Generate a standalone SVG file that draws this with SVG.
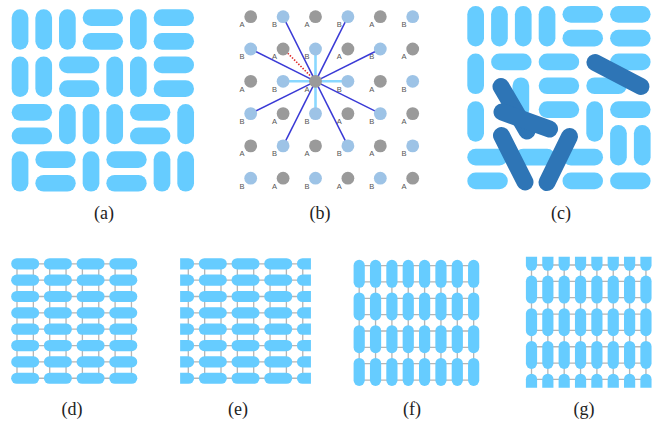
<svg xmlns="http://www.w3.org/2000/svg" xmlns:xlink="http://www.w3.org/1999/xlink" width="657" height="421" viewBox="0 0 657 421">
<style>
.pill{fill:#66ccff}
.dark{stroke:#2e75b6;stroke-width:17;stroke-linecap:round;fill:none}
.dA{fill:#9a9a9a}
.dB{fill:#9dc3e6}
.lab{font-family:"Liberation Sans",Arial,sans-serif;font-size:7.5px;fill:#555;text-anchor:middle}
.far{stroke:#3a3ad6;stroke-width:1.5}
.near{stroke:#8ad8ff;stroke-width:2.6}
.red{stroke:#e02828;stroke-width:1.6;stroke-dasharray:1.5 1.5}
.grid{stroke:#b5b5b5;stroke-width:1.3;fill:none}
.cap{font-family:"Liberation Serif","Times New Roman",serif;font-size:18px;fill:#222;text-anchor:middle}
</style>
<defs>
<rect id="pv" width="16.7" height="40.36" rx="8.35"/>
<rect id="ph" width="40.36" height="16.7" rx="8.35"/>
<rect id="cv" width="16.7" height="40.5" rx="8.35"/>
<rect id="ch" width="40.5" height="16.7" rx="8.35"/>
<rect id="sh" x="-14" y="-5.6" width="28" height="11.2" rx="5.6"/>
<rect id="sv" x="-5.6" y="-14" width="11.2" height="28" rx="5.6"/>
<g id="rowD"><use href="#sh" x="25.18"/><use href="#sh" x="57.88"/><use href="#sh" x="90.58"/><use href="#sh" x="123.28"/></g>
<g id="rowE"><use href="#sh" x="180.13"/><use href="#sh" x="212.83"/><use href="#sh" x="245.53"/><use href="#sh" x="278.23"/><use href="#sh" x="310.93"/></g>
<g id="colF"><use href="#sv" y="273.78"/><use href="#sv" y="306.48"/><use href="#sv" y="339.18"/><use href="#sv" y="371.88"/></g>
<g id="colG"><use href="#sv" y="256.83"/><use href="#sv" y="289.53"/><use href="#sv" y="322.23"/><use href="#sv" y="354.93"/><use href="#sv" y="387.63"/></g>
<clipPath id="clipE"><rect x="180.13" y="250" width="130.8" height="140"/></clipPath>
<clipPath id="clipG"><rect x="520" y="256.83" width="140" height="130.8"/></clipPath>
</defs>

<g id="panel-a" class="pill">
<use href="#pv" x="11.7" y="9.3"/><use href="#pv" x="35.36" y="9.3"/><use href="#pv" x="59.02" y="9.3"/>
<use href="#ph" x="82.68" y="9.3"/><use href="#ph" x="82.68" y="32.96"/>
<use href="#pv" x="130" y="9.3"/>
<use href="#ph" x="153.66" y="9.3"/><use href="#ph" x="153.66" y="32.96"/>
<use href="#pv" x="11.7" y="56.62"/><use href="#pv" x="35.36" y="56.62"/>
<use href="#ph" x="59.02" y="56.62"/><use href="#ph" x="59.02" y="80.28"/>
<use href="#pv" x="106.34" y="56.62"/><use href="#pv" x="130" y="56.62"/>
<use href="#ph" x="153.66" y="56.62"/><use href="#ph" x="153.66" y="80.28"/>
<use href="#ph" x="11.7" y="103.94"/><use href="#ph" x="11.7" y="127.6"/>
<use href="#pv" x="59.02" y="103.94"/><use href="#pv" x="82.68" y="103.94"/><use href="#pv" x="106.34" y="103.94"/>
<use href="#ph" x="130" y="103.94"/><use href="#ph" x="130" y="127.6"/>
<use href="#pv" x="177.32" y="103.94"/>
<use href="#pv" x="11.7" y="151.26"/>
<use href="#ph" x="35.36" y="151.26"/><use href="#ph" x="35.36" y="174.92"/>
<use href="#pv" x="82.68" y="151.26"/>
<use href="#ph" x="106.34" y="151.26"/><use href="#ph" x="106.34" y="174.92"/>
<use href="#pv" x="153.66" y="151.26"/><use href="#pv" x="177.32" y="151.26"/>
</g>

<g id="panel-b">
<g id="labels-b" class="lab">
<text x="242.1" y="27.1">A</text><text x="274.5" y="27.1">B</text><text x="306.9" y="27.1">A</text><text x="339.3" y="27.1">B</text><text x="371.7" y="27.1">A</text><text x="404.1" y="27.1">B</text>
<text x="242.1" y="59.4">B</text><text x="274.5" y="59.4">A</text><text x="306.9" y="59.4">B</text><text x="339.3" y="59.4">A</text><text x="371.7" y="59.4">B</text><text x="404.1" y="59.4">A</text>
<text x="242.1" y="91.7">A</text><text x="274.5" y="91.7">B</text><text x="306.9" y="91.7">A</text><text x="339.3" y="91.7">B</text><text x="371.7" y="91.7">A</text><text x="404.1" y="91.7">B</text>
<text x="242.1" y="124">B</text><text x="274.5" y="124">A</text><text x="306.9" y="124">B</text><text x="339.3" y="124">A</text><text x="371.7" y="124">B</text><text x="404.1" y="124">A</text>
<text x="242.1" y="156.3">A</text><text x="274.5" y="156.3">B</text><text x="306.9" y="156.3">A</text><text x="339.3" y="156.3">B</text><text x="371.7" y="156.3">A</text><text x="404.1" y="156.3">B</text>
<text x="242.1" y="188.6">B</text><text x="274.5" y="188.6">A</text><text x="306.9" y="188.6">B</text><text x="339.3" y="188.6">A</text><text x="371.7" y="188.6">B</text><text x="404.1" y="188.6">A</text>
</g>
<g id="connectors-b">
<line class="far" x1="315.5" y1="81.3" x2="283.1" y2="16.7"/>
<line class="far" x1="315.5" y1="81.3" x2="347.9" y2="16.7"/>
<line class="far" x1="315.5" y1="81.3" x2="250.7" y2="49"/>
<line class="far" x1="315.5" y1="81.3" x2="380.3" y2="49"/>
<line class="far" x1="315.5" y1="81.3" x2="250.7" y2="113.6"/>
<line class="far" x1="315.5" y1="81.3" x2="380.3" y2="113.6"/>
<line class="far" x1="315.5" y1="81.3" x2="283.1" y2="145.9"/>
<line class="far" x1="315.5" y1="81.3" x2="347.9" y2="145.9"/>
<line class="near" x1="315.5" y1="81.3" x2="315.5" y2="49"/>
<line class="near" x1="315.5" y1="81.3" x2="283.1" y2="81.3"/>
<line class="near" x1="315.5" y1="81.3" x2="347.9" y2="81.3"/>
<line class="near" x1="315.5" y1="81.3" x2="315.5" y2="113.6"/>
<line class="red" x1="310" y1="75.5" x2="287.5" y2="53"/>
</g>
<g id="dots-b">
<circle class="dA" cx="250.7" cy="16.7" r="6.4"/><circle class="dB" cx="283.1" cy="16.7" r="6.4"/><circle class="dA" cx="315.5" cy="16.7" r="6.4"/><circle class="dB" cx="347.9" cy="16.7" r="6.4"/><circle class="dA" cx="380.3" cy="16.7" r="6.4"/><circle class="dB" cx="412.7" cy="16.7" r="6.4"/>
<circle class="dB" cx="250.7" cy="49" r="6.4"/><circle class="dA" cx="283.1" cy="49" r="6.4"/><circle class="dB" cx="315.5" cy="49" r="6.4"/><circle class="dA" cx="347.9" cy="49" r="6.4"/><circle class="dB" cx="380.3" cy="49" r="6.4"/><circle class="dA" cx="412.7" cy="49" r="6.4"/>
<circle class="dA" cx="250.7" cy="81.3" r="6.4"/><circle class="dB" cx="283.1" cy="81.3" r="6.4"/><circle class="dA" cx="315.5" cy="81.3" r="6.4"/><circle class="dB" cx="347.9" cy="81.3" r="6.4"/><circle class="dA" cx="380.3" cy="81.3" r="6.4"/><circle class="dB" cx="412.7" cy="81.3" r="6.4"/>
<circle class="dB" cx="250.7" cy="113.6" r="6.4"/><circle class="dA" cx="283.1" cy="113.6" r="6.4"/><circle class="dB" cx="315.5" cy="113.6" r="6.4"/><circle class="dA" cx="347.9" cy="113.6" r="6.4"/><circle class="dB" cx="380.3" cy="113.6" r="6.4"/><circle class="dA" cx="412.7" cy="113.6" r="6.4"/>
<circle class="dA" cx="250.7" cy="145.9" r="6.4"/><circle class="dB" cx="283.1" cy="145.9" r="6.4"/><circle class="dA" cx="315.5" cy="145.9" r="6.4"/><circle class="dB" cx="347.9" cy="145.9" r="6.4"/><circle class="dA" cx="380.3" cy="145.9" r="6.4"/><circle class="dB" cx="412.7" cy="145.9" r="6.4"/>
<circle class="dB" cx="250.7" cy="178.2" r="6.4"/><circle class="dA" cx="283.1" cy="178.2" r="6.4"/><circle class="dB" cx="315.5" cy="178.2" r="6.4"/><circle class="dA" cx="347.9" cy="178.2" r="6.4"/><circle class="dB" cx="380.3" cy="178.2" r="6.4"/><circle class="dA" cx="412.7" cy="178.2" r="6.4"/>
</g>
</g>

<g id="panel-c">
<g class="pill">
<use href="#cv" x="467.3" y="6"/><use href="#cv" x="491.1" y="6"/><use href="#cv" x="514.9" y="6"/><use href="#cv" x="538.7" y="6"/>
<use href="#ch" x="562.5" y="6"/><use href="#ch" x="562.5" y="29.8"/>
<use href="#ch" x="610.1" y="6"/><use href="#ch" x="610.1" y="29.8"/>
<use href="#cv" x="467.3" y="53.6"/>
<use href="#ch" x="491.1" y="53.6"/>
<use href="#cv" x="512.5" y="77.4"/>
<use href="#ch" x="538.7" y="53.6"/><use href="#ch" x="538.7" y="77.4"/>
<use href="#ch" x="586.3" y="77.4"/>
<use href="#ch" x="610.1" y="53.6"/>
<use href="#cv" x="467.3" y="101.2"/>
<use href="#ch" x="538.7" y="101.2"/>
<use href="#cv" x="586.3" y="101.2"/>
<use href="#ch" x="610.1" y="101.2"/>
<use href="#cv" x="610.1" y="125"/><use href="#cv" x="633.9" y="125"/>
<use href="#ch" x="467.3" y="148.8"/><use href="#ch" x="467.3" y="172.6"/>
<use href="#ch" x="514.9" y="148.8"/>
<use href="#ch" x="562.5" y="148.8"/><use href="#ch" x="562.5" y="172.6"/>
<use href="#ch" x="610.1" y="172.6"/>
</g>
<g class="dark">
<line x1="595" y1="62.5" x2="641" y2="86.5"/>
<line x1="501" y1="86.5" x2="527" y2="131"/>
<line x1="502" y1="112" x2="549.5" y2="129"/>
<line x1="501.5" y1="135.5" x2="525" y2="182"/>
<line x1="569.5" y1="136.5" x2="547" y2="182.5"/>
</g>
</g>

<g id="panel-d">
<path class="grid" d="M17 263.8H131.45M17 280.15H131.45M17 296.5H131.45M17 312.85H131.45M17 329.2H131.45M17 345.55H131.45M17 361.9H131.45M17 378.25H131.45M17 263.8V378.25M33.35 263.8V378.25M49.7 263.8V378.25M66.05 263.8V378.25M82.4 263.8V378.25M98.75 263.8V378.25M115.1 263.8V378.25M131.45 263.8V378.25"/>
<g class="pill">
<use href="#rowD" y="263.8"/><use href="#rowD" y="280.15"/><use href="#rowD" y="296.5"/><use href="#rowD" y="312.85"/><use href="#rowD" y="329.2"/><use href="#rowD" y="345.55"/><use href="#rowD" y="361.9"/><use href="#rowD" y="378.25"/>
</g>
</g>

<g id="panel-e">
<path class="grid" d="M188.3 263.8H302.75M188.3 280.15H302.75M188.3 296.5H302.75M188.3 312.85H302.75M188.3 329.2H302.75M188.3 345.55H302.75M188.3 361.9H302.75M188.3 378.25H302.75M188.3 263.8V378.25M204.65 263.8V378.25M221 263.8V378.25M237.35 263.8V378.25M253.7 263.8V378.25M270.05 263.8V378.25M286.4 263.8V378.25M302.75 263.8V378.25"/>
<g class="pill" clip-path="url(#clipE)">
<use href="#rowE" y="263.8"/><use href="#rowE" y="280.15"/><use href="#rowE" y="296.5"/><use href="#rowE" y="312.85"/><use href="#rowE" y="329.2"/><use href="#rowE" y="345.55"/><use href="#rowE" y="361.9"/><use href="#rowE" y="378.25"/>
</g>
</g>

<g id="panel-f">
<path class="grid" d="M359.2 265.6H473.65M359.2 281.95H473.65M359.2 298.3H473.65M359.2 314.65H473.65M359.2 331H473.65M359.2 347.35H473.65M359.2 363.7H473.65M359.2 380.05H473.65M359.2 265.6V380.05M375.55 265.6V380.05M391.9 265.6V380.05M408.25 265.6V380.05M424.6 265.6V380.05M440.95 265.6V380.05M457.3 265.6V380.05M473.65 265.6V380.05"/>
<g class="pill">
<use href="#colF" x="359.2"/><use href="#colF" x="375.55"/><use href="#colF" x="391.9"/><use href="#colF" x="408.25"/><use href="#colF" x="424.6"/><use href="#colF" x="440.95"/><use href="#colF" x="457.3"/><use href="#colF" x="473.65"/>
</g>
</g>

<g id="panel-g">
<path class="grid" d="M531.5 265H645.95M531.5 281.35H645.95M531.5 297.7H645.95M531.5 314.05H645.95M531.5 330.4H645.95M531.5 346.75H645.95M531.5 363.1H645.95M531.5 379.45H645.95M531.5 265V379.45M547.85 265V379.45M564.2 265V379.45M580.55 265V379.45M596.9 265V379.45M613.25 265V379.45M629.6 265V379.45M645.95 265V379.45"/>
<g class="pill" clip-path="url(#clipG)">
<use href="#colG" x="531.5"/><use href="#colG" x="547.85"/><use href="#colG" x="564.2"/><use href="#colG" x="580.55"/><use href="#colG" x="596.9"/><use href="#colG" x="613.25"/><use href="#colG" x="629.6"/><use href="#colG" x="645.95"/>
</g>
</g>

<g id="captions" class="cap">
<text x="104" y="219">(a)</text>
<text x="320" y="219">(b)</text>
<text x="561" y="219">(c)</text>
<text x="72" y="415">(d)</text>
<text x="238" y="415">(e)</text>
<text x="412" y="415">(f)</text>
<text x="584" y="415">(g)</text>
</g>
</svg>
